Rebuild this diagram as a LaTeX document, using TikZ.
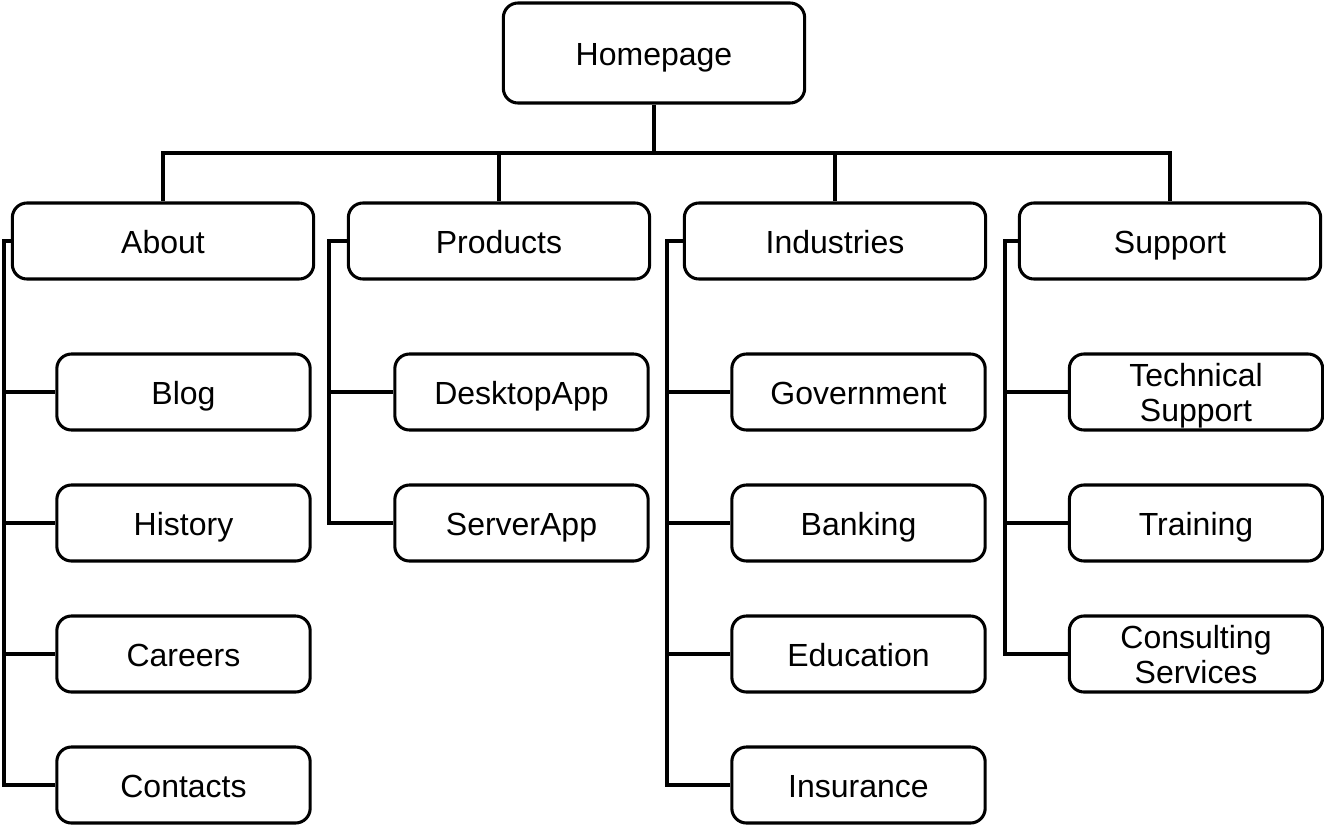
\documentclass[tikz,border=0pt]{standalone}
\usepackage{fontspec}
\setmainfont{Liberation Sans}
\begin{document}
\begin{tikzpicture}[x=0.75pt,y=-0.75pt,
  box/.style={draw,line width=2.3pt,rounded corners=11pt,fill=white,inner sep=0pt,align=center,
    text height=20pt,text depth=2pt,
    font=\fontsize{24}{26}\selectfont},
  twoline/.style={text height=46pt,text depth=2pt},
  topbox/.style={box,minimum width=226pt,minimum height=75pt},
  secbox/.style={box,minimum width=226pt,minimum height=57pt},
  leafbox/.style={box,minimum width=190pt,minimum height=57pt},
  conn/.style={line width=2.3pt}]
\useasboundingbox (0,0) rectangle (1324,825);
\node[topbox] (home) at (654,53) {Homepage};
\node[secbox] (about) at (163,241) {About};
\node[secbox] (products) at (499,241) {Products};
\node[secbox] (industries) at (835,241) {Industries};
\node[secbox] (support) at (1170,241) {Support};
\node[leafbox] (blog) at (183.5,392) {Blog};
\node[leafbox] (history) at (183.5,523) {History};
\node[leafbox] (careers) at (183.5,654) {Careers};
\node[leafbox] (contacts) at (183.5,785) {Contacts};
\node[leafbox] (desktop) at (521.5,392) {DesktopApp};
\node[leafbox] (server) at (521.5,523) {ServerApp};
\node[leafbox] (government) at (858.5,392) {Government};
\node[leafbox] (banking) at (858.5,523) {Banking};
\node[leafbox] (education) at (858.5,654) {Education};
\node[leafbox] (insurance) at (858.5,785) {Insurance};
\node[leafbox,twoline] (technical) at (1196,392) {Technical\\Support};
\node[leafbox] (training) at (1196,523) {Training};
\node[leafbox,twoline] (consulting) at (1196,654) {Consulting\\Services};
\coordinate (bus) at (0,153);
\draw[conn] (home.south) -- (home.south |- bus);
\draw[conn] (about.north) -- (about.north |- bus) -- (support.north |- bus) -- (support.north);
\draw[conn] (products.north) -- (products.north |- bus);
\draw[conn] (industries.north) -- (industries.north |- bus);
\coordinate (aL) at (4,0);
\coordinate (pL) at (329,0);
\coordinate (iL) at (667,0);
\coordinate (sL) at (1005,0);
\draw[conn] (about.west) -| (aL |- contacts.west) -- (contacts.west);
\foreach \n in {blog,history,careers} \draw[conn] (aL |- \n.west) -- (\n.west);
\draw[conn] (products.west) -| (pL |- server.west) -- (server.west);
\draw[conn] (pL |- desktop.west) -- (desktop.west);
\draw[conn] (industries.west) -| (iL |- insurance.west) -- (insurance.west);
\foreach \n in {government,banking,education} \draw[conn] (iL |- \n.west) -- (\n.west);
\draw[conn] (support.west) -| (sL |- consulting.west) -- (consulting.west);
\foreach \n in {technical,training} \draw[conn] (sL |- \n.west) -- (\n.west);
\end{tikzpicture}
\end{document}
